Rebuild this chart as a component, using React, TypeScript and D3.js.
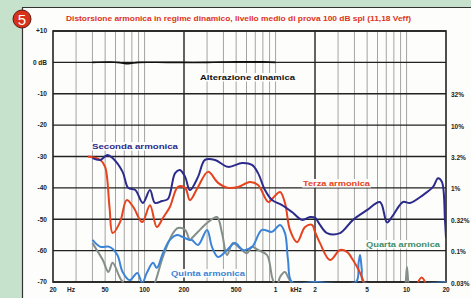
import React from "react";
import * as d3 from "d3";

// values: [frequency Hz, dB]
const alterazione: [number, number][] = [
  [40, 0], [55, 0.1], [65, -0.1], [75, -0.4], [90, 0], [150, 0], [300, 0], [500, 0.2], [800, 0.15], [1000, 0],
];
const seconda: [number, number][] = [
  [40, -30.5], [46, -31.1], [52, -29.5], [57, -30.5], [68, -34.9], [75, -40], [85, -40.7], [97, -44.8],
  [110, -40.7], [120, -44.8], [136, -44.2], [151, -43.5], [171, -35.3], [186, -34.3], [204, -36.5],
  [222, -40.7], [256, -36.5], [289, -31.1], [345, -31.1], [434, -33.3], [555, -32.1], [661, -32.7],
  [735, -35.3], [830, -40.7], [940, -43.9], [1120, -45.5], [1335, -47.7], [1592, -50.2], [1832, -49.3],
  [2000, -49.5], [2184, -51.8], [2472, -54.4], [3104, -54.4], [3900, -50.2], [4986, -47.1], [6266, -44.5],
  [7092, -51], [7800, -49], [9396, -44.5], [10620, -44.8], [13345, -42.3], [15920, -39.7], [17380, -36.9],
  [18620, -38.1], [19640, -50.2], [20000, -56],
];
const terza: [number, number][] = [
  [37, -30], [46, -31.1], [50, -33.3], [54, -46.1], [57, -54.4], [65, -50.9], [73, -43.9], [82, -46.1],
  [96, -50.9], [110, -45.5], [124, -52.5], [138, -49.6], [156, -46.1], [180, -39.7], [204, -40],
  [222, -43.9], [256, -39.7], [305, -34.9], [364, -38.4], [434, -40], [517, -39.7], [638, -38.1],
  [735, -39.1], [880, -44.5], [955, -43.2], [1082, -41.3], [1180, -44.8], [1288, -53.4], [1458, -57.3],
  [1679, -52.5], [1898, -51.8], [2000, -54], [2184, -57.6], [2604, -63], [3104, -59.8], [3508, -60.4],
  [3900, -63], [4416, -67.1], [4800, -71], [5200, -76], [11000, -76], [12000, -71], [13000, -68.6],
  [14000, -70.5], [15000, -76],
];
const quarta: [number, number][] = [
  [40, -57.6], [48, -63], [53, -66.8], [57, -63.9], [65, -68.7], [71, -71], [85, -76], [105, -76],
  [120, -70.3], [138, -62], [165, -54.4], [180, -52.8], [204, -53.4], [222, -56.6], [230, -56],
  [256, -54], [300, -51.2], [357, -49.3], [390, -54.4], [426, -61.4], [473, -57.6], [535, -59.2],
  [605, -60.8], [661, -58.8], [735, -59.8], [860, -61.4], [940, -68.4], [990, -71], [1026, -71.5],
  [1082, -68.4], [1180, -66.8], [1245, -68.4], [1335, -71], [1450, -76], [9300, -76], [9800, -71],
  [10070, -65.2], [10350, -71], [10800, -76],
];
const quinta: [number, number][] = [
  [40, -56.6], [46, -58.8], [54, -58.8], [62, -61.4], [68, -66.8], [77, -69.4], [88, -67.1], [96, -70.3],
  [104, -67.1], [116, -63.9], [124, -65.5], [138, -60.8], [156, -56.6], [177, -55], [196, -55.7],
  [222, -56.6], [230, -56.6], [256, -58.2], [300, -53.4], [327, -58.8], [364, -62], [426, -59.8],
  [490, -57.6], [564, -59.8], [661, -58.8], [787, -53.4], [940, -54], [1082, -51.8], [1180, -54.4],
  [1245, -63], [1335, -70], [2000, -70], [4100, -70], [4300, -64], [4416, -61.4], [4550, -66], [4700, -70],
  [20000, -70],
];

const dbTicks = [10, 0, -10, -20, -30, -40, -50, -60, -70];
const dbLabels = ["+10", "0 dB", "-10", "-20", "-30", "-40", "-50", "-60", "-70"];
const pctTicks = [-10, -20, -30, -40, -50, -60, -70];
const pctLabels = ["32%", "10%", "3.2%", "1%", "0.32%", "0.1%", "0.03%"];
const freqTicks = [20, 50, 100, 200, 500, 1000, 2000, 5000, 10000, 20000];
const freqLabels = ["20", "50", "100", "200", "500", "1", "2", "5", "10", "20"];
const title = "Distorsione armonica in regime dinamico, livello medio di prova 100 dB spl (11,18 Veff)";

const W = 471;
const H = 298;
const margin = { left: 53, right: 25, top: 31, bottom: 16 };

const App = () => {
  const svgRef = React.useRef<SVGSVGElement>(null);

  React.useEffect(() => {
    const x = d3.scaleLog().domain([20, 20000]).range([margin.left, W - margin.right]);
    const y = d3.scaleLinear().domain([-70, 10]).range([H - margin.bottom, margin.top]);

    const svg = d3.select(svgRef.current);
    svg.selectAll("*").remove();
    const font = "Arial, 'Liberation Sans', sans-serif";

    // background + white panel
    svg.append("rect").attr("width", W).attr("height", H).attr("fill", "#c6e2cd");
    svg.append("rect").attr("x", 22).attr("y", 7).attr("width", W - 22).attr("height", H - 7).attr("fill", "#fdfdfb");
    svg.append("line").attr("x1", 22).attr("x2", W).attr("y1", 7.5).attr("y2", 7.5).attr("stroke", "#333").attr("stroke-width", 1.2);
    svg.append("line").attr("x1", 22.5).attr("x2", 22.5).attr("y1", 7).attr("y2", H).attr("stroke", "#333").attr("stroke-width", 1.2);

    // badge
    svg.append("circle").attr("cx", 22).attr("cy", 19).attr("r", 9).attr("fill", "#d8321a").attr("stroke", "#5a1a10").attr("stroke-width", 1);
    svg.append("text").attr("x", 22).attr("y", 24.5).attr("text-anchor", "middle").attr("font-family", font)
      .attr("font-size", 15).attr("fill", "white").text("5");

    // title
    svg.append("text").attr("x", 66).attr("y", 21).attr("font-family", font).attr("font-weight", "bold")
      .attr("font-size", 7).attr("fill", "#e0321c").attr("textLength", 345).attr("lengthAdjust", "spacingAndGlyphs").text(title);

    const [x0, x1] = x.range();
    const [y0, y1] = [y(-70), y(10)];

    // vertical grid
    const minor: number[] = [];
    for (const dec of [10, 100, 1000, 10000]) {
      for (let k = 1; k < 10; k++) {
        const f = dec * k;
        if (f > 20 && f < 20000 && f !== 200 && f !== 2000) minor.push(f);
      }
    }
    svg.append("g").selectAll("line").data(minor).join("line")
      .attr("x1", (d) => x(d)).attr("x2", (d) => x(d)).attr("y1", y1).attr("y2", y0)
      .attr("stroke", "#9a9a9a").attr("stroke-width", 0.9);
    svg.append("g").selectAll("line").data([200, 2000]).join("line")
      .attr("x1", (d) => x(d)).attr("x2", (d) => x(d)).attr("y1", y1).attr("y2", y0)
      .attr("stroke", "#222").attr("stroke-width", 1.4);

    // horizontal grid
    svg.append("g").selectAll("line").data(dbTicks).join("line")
      .attr("x1", x0).attr("x2", x1).attr("y1", (d) => y(d)).attr("y2", (d) => y(d))
      .attr("stroke", "#222").attr("stroke-width", 1.4);
    svg.append("rect").attr("x", x0).attr("y", y1).attr("width", x1 - x0).attr("height", y0 - y1)
      .attr("fill", "none").attr("stroke", "#222").attr("stroke-width", 1.6);

    // axis labels
    const lab = svg.append("g").attr("font-family", font).attr("font-weight", "bold").attr("font-size", 6.5).attr("fill", "#222");
    lab.selectAll("text.l").data(dbTicks).join("text").attr("class", "l")
      .attr("x", 47).attr("y", (d) => y(d) + 2.3).attr("text-anchor", "end").text((d, i) => dbLabels[i]);
    lab.selectAll("text.r").data(pctTicks).join("text").attr("class", "r")
      .attr("x", 451).attr("y", (d) => y(d) + 3.5).text((d, i) => pctLabels[i]);
    lab.selectAll("text.b").data(freqTicks).join("text").attr("class", "b")
      .attr("x", (d) => x(d)).attr("y", 292).attr("text-anchor", "middle").text((d, i) => freqLabels[i]);
    lab.append("text").attr("x", 71).attr("y", 292).attr("text-anchor", "middle").text("Hz");
    lab.append("text").attr("x", 296).attr("y", 292).attr("text-anchor", "middle").text("kHz");

    // curves
    svg.append("clipPath").attr("id", "plot").append("rect")
      .attr("x", x0).attr("y", y1 - 2).attr("width", x1 - x0).attr("height", y0 - y1 + 2.5);
    const line = d3.line<[number, number]>().x((d) => x(d[0])).y((d) => y(d[1])).curve(d3.curveCatmullRom.alpha(0.5));
    const g = svg.append("g").attr("clip-path", "url(#plot)");
    const series: [[number, number][], string, number][] = [
      [quarta, "#858f89", 2],
      [quinta, "#3b84d8", 2],
      [terza, "#e5421d", 2],
      [seconda, "#2c2b8c", 2],
      [alterazione, "#111", 1.6],
    ];
    series.forEach(([data, color, w]) => {
      g.append("path").attr("d", line(data)).attr("fill", "none").attr("stroke", color).attr("stroke-width", w)
        .attr("stroke-linejoin", "round");
    });

    // series labels
    const labels: [string, number, number, number, string][] = [
      ["Alterazione dinamica", 200, 80, 95, "#111"],
      ["Seconda armonica", 92, 149, 86, "#2c2b8c"],
      ["Terza armonica", 303, 186, 67, "#e5421d"],
      ["Quarta armonica", 366, 247, 74, "#3d8c6c"],
      ["Quinta armonica", 171, 276, 74, "#3b84d8"],
    ];
    labels.forEach(([t, lx, ly, len, c]) => {
      svg.append("rect").attr("x", lx - 1).attr("y", ly - 7).attr("width", len + 2).attr("height", 8.5).attr("fill", "#fdfdfb");
      svg.append("text").attr("x", lx).attr("y", ly).attr("font-family", font).attr("font-weight", "bold")
        .attr("font-size", 8).attr("fill", c).attr("textLength", len).attr("lengthAdjust", "spacingAndGlyphs").text(t);
    });
  }, []);

  return (
    <svg ref={svgRef} width={W} height={H} style={{ position: "absolute", left: 0, top: 0 }} />
  );
};

export default App;
